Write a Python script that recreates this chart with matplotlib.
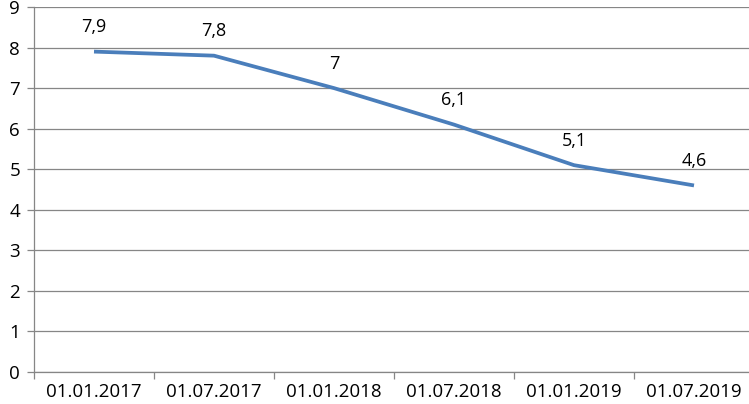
import matplotlib.pyplot as plt
import numpy as np

# =========================
# DADOS
# =========================
datas = ["01.01.2017", "01.07.2017", "01.01.2018", "01.07.2018", "01.01.2019", "01.07.2019"]
valores = [7.9, 7.8, 7.0, 6.1, 5.1, 4.6]
rotulos = ["7,9", "7,8", "7", "6,1", "5,1", "4,6"]

COR_LINHA = "#4a7ebb"
COR_GRADE = "#868686"

plt.rcParams["font.family"] = ["Open Sans", "DejaVu Sans"]

fig = plt.figure(figsize=(7.49, 4.04), dpi=100)
ax = fig.add_axes([34 / 749, 32 / 404, 720 / 749, 365 / 404])

x = np.arange(len(datas))
ax.plot(x, valores, color=COR_LINHA, linewidth=2.7, solid_joinstyle="round",
        solid_capstyle="butt")

for xi, v, r in zip(x, valores, rotulos):
    ax.annotate(r, (xi, v), xytext=(0, 11), textcoords="offset points",
                ha="center", va="bottom", fontsize=13, color="#000000")

ax.set_xlim(-0.5, len(datas) - 0.5)
ax.set_ylim(0, 9)
ax.set_yticks(range(0, 10))
ax.set_xticks(x)
ax.set_xticklabels(datas)
ax.set_xticks(np.arange(-0.5, len(datas)), minor=True)

ax.yaxis.grid(True, color=COR_GRADE, linewidth=0.9)
ax.set_axisbelow(True)
for lado in ["top", "right"]:
    ax.spines[lado].set_visible(False)
for lado in ["left", "bottom"]:
    ax.spines[lado].set_color(COR_GRADE)
    ax.spines[lado].set_linewidth(0.9)

ax.tick_params(axis="x", which="major", length=0, labelsize=13.5, pad=8)
ax.tick_params(axis="x", which="minor", length=5, color=COR_GRADE, width=0.9)
ax.tick_params(axis="y", length=5, color=COR_GRADE, width=0.9, labelsize=13.5, pad=5)

plt.savefig("out.png", dpi=100)
plt.close()
